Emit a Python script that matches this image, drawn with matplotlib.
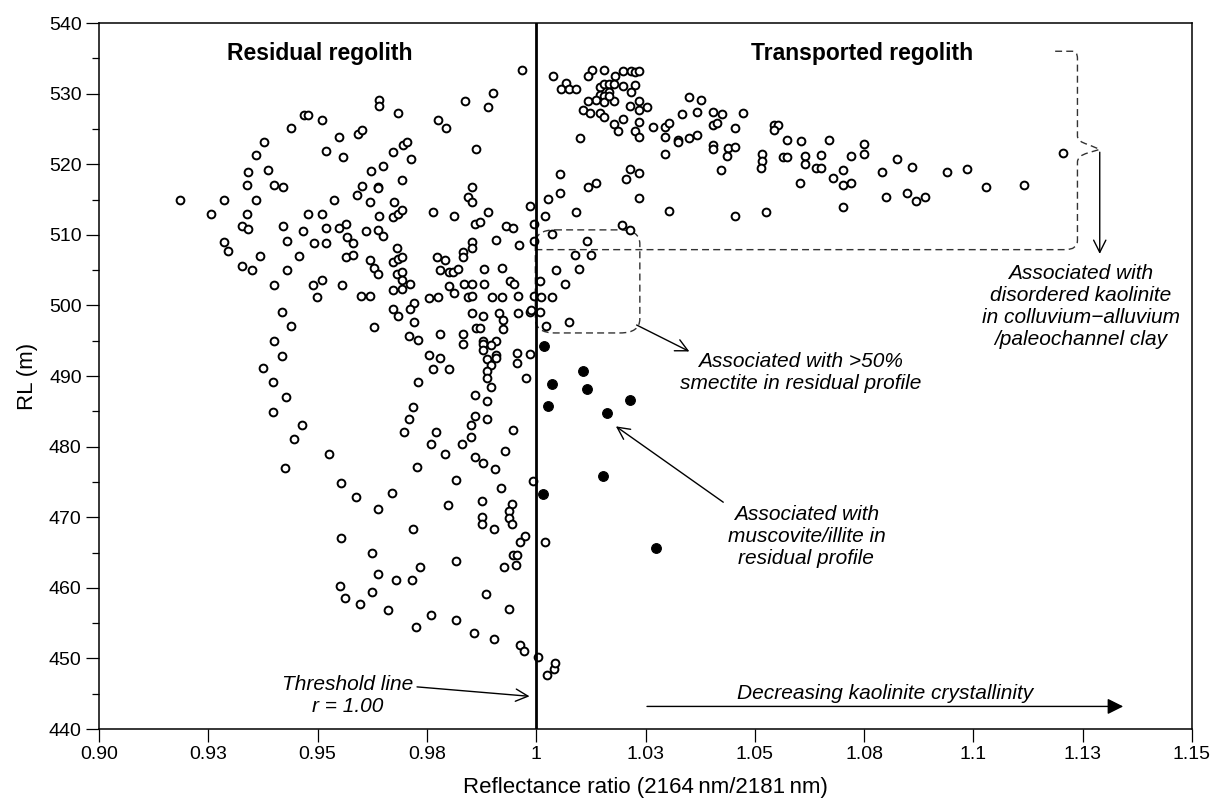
import matplotlib
matplotlib.use("Agg")
import matplotlib.pyplot as plt
from matplotlib.path import Path
from matplotlib.patches import PathPatch

plt.rcParams["font.family"] = ["Liberation Sans", "DejaVu Sans"]

# reflectance ratio / RL pairs, kaolinite-bearing samples (open symbols)
ratio_open = [
    0.9468, 0.9478, 0.9510, 0.9439, 0.9548, 0.9378, 0.9519, 0.9558, 0.9359, 0.9340,
    0.9387, 0.9339, 0.9401, 0.9420, 0.9185, 0.9286, 0.9358, 0.9538, 0.9256, 0.9339,
    0.9477, 0.9510, 0.9328, 0.9340, 0.9420, 0.9466, 0.9518, 0.9548, 0.9566, 0.9568,
    0.9580, 0.9286, 0.9295, 0.9429, 0.9491, 0.9520, 0.9367, 0.9457, 0.9566, 0.9581,
    0.9328, 0.9349, 0.9429, 0.9401, 0.9490, 0.9510, 0.9556, 0.9499,
    0.9419, 0.9438, 0.9400, 0.9419, 0.9375, 0.9399, 0.9427, 0.9399, 0.9465, 0.9446,
    0.9526, 0.9426, 0.9554,
    0.9553, 0.9551, 0.9562,
    0.9967, 0.9901, 0.9641, 0.9641, 0.9836, 0.9890, 0.9684, 0.9775, 0.9794, 0.9592,
    0.9602, 0.9695, 0.9705, 0.9673, 0.9713, 0.9862, 0.9621, 0.9649, 0.9693, 0.9601,
    0.9639, 0.9639, 0.9591, 0.9620, 0.9674, 0.9672, 0.9683, 0.9694, 0.9640, 0.9639,
    0.9649, 0.9610, 0.9763, 0.9811, 0.9854, 0.9843, 0.9853, 0.9890, 0.9860, 0.9871,
    0.9986, 0.9931, 0.9948, 0.9995, 0.9907, 0.9960, 0.9994, 0.9853, 0.9853, 0.9832,
    0.9832, 0.9682, 0.9673, 0.9684, 0.9693, 0.9620, 0.9629, 0.9639, 0.9682, 0.9692,
    0.9692, 0.9711, 0.9673, 0.9692, 0.9772, 0.9792, 0.9781, 0.9800, 0.9810, 0.9820,
    0.9881, 0.9922, 0.9800, 0.9811, 0.9835, 0.9853, 0.9880, 0.9940, 0.9949, 0.9958,
    1.0008, 0.9996, 1.0011, 0.9600, 0.9619, 0.9754, 0.9776, 0.9845, 0.9854, 0.9899,
    0.9922,
    0.9720, 0.9673, 0.9684, 0.9711, 0.9720, 0.9628, 0.9709, 0.9729, 0.9781, 0.9833,
    0.9833, 0.9852, 0.9878, 0.9863, 0.9872, 0.9914, 0.9923, 0.9923, 0.9958, 0.9985,
    0.9987, 1.0009, 1.0023, 0.9878, 0.9878, 0.9878, 0.9907, 0.9897, 0.9907, 0.9907,
    0.9887, 0.9897, 0.9887, 0.9887, 0.9897, 0.9754, 0.9781, 0.9764, 0.9800, 0.9729,
    0.9957, 0.9957, 0.9985, 0.9976, 0.9859, 0.9887, 0.9719, 0.9709, 0.9698, 0.9771,
    0.9760, 0.9791, 0.9859, 0.9887, 0.9850, 0.9850, 0.9831, 0.9946, 0.9928, 0.9859,
    0.9878, 0.9905, 0.9728, 0.9816, 0.9992, 0.9920, 0.9587, 0.9669, 0.9637, 0.9798,
    0.9877, 0.9945, 0.9937, 0.9937, 0.9945, 0.9877, 0.9877, 0.9718, 0.9904,
    0.9975, 0.9963, 0.9947, 0.9956, 0.9954, 0.9927, 1.0021, 0.9625, 0.9637, 0.9625,
    0.9596, 0.9660, 0.9679, 0.9716, 0.9735, 0.9817, 0.9726, 0.9760, 0.9816, 0.9857,
    0.9903, 0.9886, 0.9938, 0.9963, 0.9971, 1.0004,
    1.0024, 1.0040, 1.0044, 1.0037, 1.0075,
    1.0038, 1.0067, 1.0057, 1.0076, 1.0091, 1.0127, 1.0119, 1.0156, 1.0180, 1.0198,
    1.0217, 1.0227, 1.0236, 1.0145, 1.0156, 1.0166, 1.0179, 1.0198, 1.0226, 1.0217,
    1.0167, 1.0145, 1.0156, 1.0137, 1.0118, 1.0154, 1.0179, 1.0166, 1.0107, 1.0122,
    1.0145, 1.0156, 1.0215, 1.0236, 1.0236, 1.0253, 1.0198, 1.0177, 1.0188, 1.0235,
    1.0225, 1.0235, 1.0267, 1.0295, 1.0304, 1.0295, 1.0325, 1.0325, 1.0349, 1.0367,
    1.0334, 1.0349, 1.0367, 1.0377, 1.0405, 1.0424, 1.0405, 1.0413, 1.0405, 1.0405,
    1.0295, 1.0423, 1.0099, 1.0055, 1.0118, 1.0137, 1.0215, 1.0206, 1.0235, 1.0055,
    1.0028, 1.0019, 1.0090, 1.0235, 1.0304, 1.0037, 1.0196, 1.0214, 1.0116, 1.0089,
    1.0126, 1.0046, 1.0098, 1.0065,
    1.0474, 1.0455, 1.0543, 1.0552, 1.0543, 1.0438, 1.0437, 1.0455, 1.0516, 1.0516,
    1.0514, 1.0564, 1.0573, 1.0573, 1.0605, 1.0615, 1.0615, 1.0652, 1.0640, 1.0651,
    1.0669, 1.0679, 1.0702, 1.0702, 1.0720, 1.0721, 1.0749, 1.0749, 1.0604, 1.0702,
    1.0455, 1.0525, 1.0790, 1.0826, 1.0859, 1.0799, 1.0847, 1.0868,
    1.0889, 1.0940, 1.0986, 1.1029, 1.1116, 1.1205,
]
rl_open = [
    527.0, 527.0, 526.2, 525.1, 523.9, 523.1, 521.9, 521.0, 521.3, 518.9,
    519.2, 517.1, 517.1, 516.8, 514.9, 514.9, 514.9, 515.0, 512.9, 512.9,
    512.9, 512.9, 511.2, 510.8, 511.2, 510.5, 510.9, 510.9, 511.5, 509.7,
    508.9, 509.0, 507.7, 509.1, 508.8, 508.9, 507.05, 507.05, 506.8, 507.1,
    505.6, 505.0, 505.0, 502.9, 502.9, 503.6, 502.9, 501.2,
    499.1, 497.1, 495.0, 492.9, 491.2, 489.1, 487.0, 484.9, 483.0, 481.1,
    479.0, 477.0, 474.9,
    467.0, 460.3, 458.5,
    533.4, 530.1, 529.1, 528.2, 528.9, 528.1, 527.3, 526.3, 525.1, 524.3,
    524.8, 522.7, 523.1, 521.7, 520.7, 522.2, 519.0, 519.8, 517.8, 516.9,
    516.8, 516.6, 515.6, 514.6, 514.7, 512.5, 512.9, 513.5, 512.6, 510.7,
    509.8, 510.6, 513.2, 512.7, 516.8, 515.3, 514.7, 513.2, 511.5, 511.8,
    514.1, 511.2, 510.9, 511.5, 509.2, 508.5, 509.1, 509.0, 508.2, 507.5,
    506.8, 508.1, 506.2, 506.6, 506.9, 506.5, 505.3, 504.5, 504.5, 504.8,
    503.6, 503.0, 502.2, 502.3, 506.9, 506.4, 505.0, 504.7, 504.8, 505.1,
    505.1, 505.3, 502.8, 501.8, 503.0, 503.0, 503.1, 503.5, 503.0, 501.4,
    503.4, 501.4, 501.2, 501.3, 501.3, 501.0, 501.2, 501.2, 501.4, 501.2,
    501.2,
    500.4, 499.5, 498.5, 499.5, 497.6, 496.9, 495.6, 495.1, 496.0, 496.0,
    494.5, 498.9, 498.5, 496.8, 496.8, 498.9, 497.9, 496.7, 498.9, 499.1,
    499.3, 499.1, 497.1, 495.0, 494.6, 493.7, 495.0, 494.4, 493.0, 492.5,
    492.4, 491.6, 490.7, 489.7, 488.5, 493.0, 492.6, 491.0, 491.0, 489.2,
    493.3, 491.9, 493.1, 489.7, 487.3, 486.5, 485.6, 483.9, 482.0, 482.0,
    480.3, 478.9, 484.4, 483.9, 483.0, 481.3, 480.4, 482.4, 479.4, 478.6,
    477.7, 476.8, 477.1, 475.3, 475.1, 474.1, 472.9, 473.5, 471.2, 471.7,
    472.3, 471.9, 470.9, 469.9, 469.1, 470.1, 469.1, 468.4, 468.4,
    467.3, 466.5, 464.7, 464.7, 463.3, 462.9, 466.5, 465.0, 462.0, 459.4,
    457.7, 456.9, 461.1, 461.1, 462.9, 463.8, 454.5, 456.2, 455.4, 453.6,
    452.8, 459.1, 457.0, 451.9, 451.1, 450.2,
    447.6, 448.5, 449.3, 501.2, 497.7,
    532.5, 531.5, 530.6, 530.6, 530.6, 533.4, 532.5, 533.4, 532.5, 533.2,
    533.2, 533.0, 533.2, 531.0, 531.4, 531.4, 531.4, 531.1, 531.2, 530.2,
    530.2, 529.8, 529.6, 529.1, 529.0, 528.8, 529.0, 529.6, 527.7, 527.3,
    527.3, 526.7, 528.3, 529.0, 527.7, 528.1, 526.4, 525.7, 524.7, 526.0,
    524.7, 523.8, 525.3, 525.3, 525.9, 523.9, 523.4, 523.1, 523.7, 524.2,
    527.1, 529.5, 527.4, 529.1, 527.4, 527.1, 525.5, 525.9, 522.7, 522.2,
    521.5, 519.2, 523.7, 518.6, 516.8, 517.4, 519.3, 517.9, 518.8, 515.9,
    515.1, 512.7, 513.3, 515.2, 513.4, 510.1, 511.4, 510.7, 509.1, 507.1,
    507.1, 505.0, 505.1, 503.0,
    527.3, 525.1, 525.5, 525.5, 524.8, 522.3, 521.2, 522.5, 521.5, 520.4,
    519.4, 521.0, 521.0, 523.4, 523.3, 521.2, 520.0, 521.3, 519.5, 519.5,
    523.4, 518.0, 519.2, 517.1, 517.4, 521.2, 522.8, 521.5, 517.3, 513.9,
    512.7, 513.2, 518.9, 520.7, 519.6, 515.3, 515.9, 514.8,
    515.3, 518.9, 519.3, 516.8, 517.1, 521.6,
]

# muscovite/illite-bearing samples (filled symbols)
ratio_filled = [1.0017, 1.0107, 1.0036, 1.0116, 1.0215, 1.0027, 1.0162, 1.0152, 1.0015, 1.0273]
rl_filled = [494.2, 490.7, 488.9, 488.1, 486.6, 485.7, 484.7, 475.9, 473.3, 465.6]

xticks = [0.900, 0.925, 0.950, 0.975, 1.000, 1.025, 1.050, 1.075, 1.100, 1.125, 1.150]
xtick_labels = ["0.90", "0.93", "0.95", "0.98", "1", "1.03", "1.05", "1.08", "1.1", "1.13", "1.15"]
yticks = list(range(440, 541, 10))

fig = plt.figure(figsize=(12.11, 8.02), dpi=100)
ax = fig.add_axes([0.0818, 0.0910, 0.9025, 0.8803])

ax.plot(ratio_open, rl_open, "o", ms=5.6, mfc="white", mec="black", mew=1.4, ls="none", zorder=3)
ax.plot(ratio_filled, rl_filled, "o", ms=7.0, mfc="black", mec="black", mew=0.8, ls="none", zorder=3)

ax.axvline(1.0, color="black", lw=2.0, zorder=4)

ax.set_xlim(0.90, 1.15)
ax.set_ylim(440, 540)
ax.set_xticks(xticks)
ax.set_xticklabels(xtick_labels)
ax.set_yticks(yticks)
ax.set_yticks(list(range(445, 540, 10)), minor=True)
ax.tick_params(axis="both", which="major", direction="out", length=9.5, width=0.9, labelsize=14, pad=3)
ax.tick_params(axis="y", which="minor", direction="out", length=5, width=0.9)
for s in ax.spines.values():
    s.set_linewidth(1.1)

ax.set_xlabel("Reflectance ratio (2164\u2009nm/2181\u2009nm)", fontsize=16, labelpad=10)
ax.set_ylabel("RL (m)", fontsize=16, labelpad=8)

ax.text(0.9504, 535.7, "Residual regolith", fontsize=16.5, fontweight="bold", ha="center", va="center")
ax.text(1.0745, 535.7, "Transported regolith", fontsize=16.5, fontweight="bold", ha="center", va="center")


def rounded_box(x0, y0, x1, y1, rx, ry):
    verts = [
        (x0 + rx, y1), (x1 - rx, y1), (x1, y1), (x1, y1 - ry),
        (x1, y0 + ry), (x1, y0), (x1 - rx, y0),
        (x0 + rx, y0), (x0, y0), (x0, y0 + ry),
        (x0, y1 - ry), (x0, y1), (x0 + rx, y1),
    ]
    codes = [
        Path.MOVETO, Path.LINETO, Path.CURVE3, Path.CURVE3,
        Path.LINETO, Path.CURVE3, Path.CURVE3,
        Path.LINETO, Path.CURVE3, Path.CURVE3,
        Path.LINETO, Path.CURVE3, Path.CURVE3,
    ]
    return Path(verts, codes)


dash = (0, (5, 3))

# smectite group outline
ax.add_patch(PathPatch(rounded_box(0.9998, 496.1, 1.0237, 510.7, 0.0045, 2.0),
                       fill=False, ec="#333333", lw=1.0, ls=dash, zorder=2))

# brace round the transported samples
brace_verts = [
    (1.1187, 536.0), (1.1226, 536.0), (1.1238, 536.0), (1.1238, 535.0),
    (1.1238, 524.0), (1.1238, 523.2), (1.1262, 522.8), (1.1289, 522.1),
    (1.1262, 521.6), (1.1238, 521.2), (1.1238, 520.3),
    (1.1238, 509.2), (1.1238, 507.9), (1.1210, 507.9),
    (1.0000, 507.9),
]
brace_codes = [
    Path.MOVETO, Path.LINETO, Path.CURVE3, Path.CURVE3,
    Path.LINETO, Path.CURVE3, Path.CURVE3, Path.LINETO,
    Path.LINETO, Path.CURVE3, Path.CURVE3,
    Path.LINETO, Path.CURVE3, Path.CURVE3,
    Path.LINETO,
]
ax.add_patch(PathPatch(Path(brace_verts, brace_codes), fill=False, ec="#333333",
                       lw=1.0, ls=dash, zorder=2))

arrow_kw = dict(arrowstyle="->", color="black", lw=1.0, mutation_scale=22)

ax.annotate("", xy=(1.1289, 506.9), xytext=(1.1289, 522.1), arrowprops=arrow_kw)
ax.text(1.1246, 499.85,
        "Associated with\ndisordered kaolinite\nin colluvium\u2212alluvium\n/paleochannel clay",
        fontsize=15, style="italic", ha="center", va="center", linespacing=1.2)

ax.annotate("", xy=(1.0356, 493.3), xytext=(1.0224, 497.4), arrowprops=arrow_kw)
ax.text(1.0605, 490.55, "Associated with >50%\nsmectite in residual profile",
        fontsize=15, style="italic", ha="center", va="center", linespacing=1.2)

ax.annotate("", xy=(1.0177, 483.1), xytext=(1.0433, 471.9), arrowprops=arrow_kw)
ax.text(1.0618, 467.2, "Associated with\nmuscovite/illite in\nresidual profile",
        fontsize=15, style="italic", ha="center", va="center", linespacing=1.2)

ax.annotate("", xy=(0.9991, 444.6), xytext=(0.9721, 446.0), arrowprops=arrow_kw)
ax.text(0.9568, 444.8, "Threshold line\nr = 1.00", fontsize=15, style="italic",
        ha="center", va="center", linespacing=1.2)

ax.annotate("", xy=(1.1349, 443.2), xytext=(1.0247, 443.2),
            arrowprops=dict(arrowstyle="-|>", color="black", lw=1.0, mutation_scale=24))
ax.text(1.0799, 445.1, "Decreasing kaolinite crystallinity", fontsize=15,
        style="italic", ha="center", va="center")

fig.savefig("out.png", dpi=100)
